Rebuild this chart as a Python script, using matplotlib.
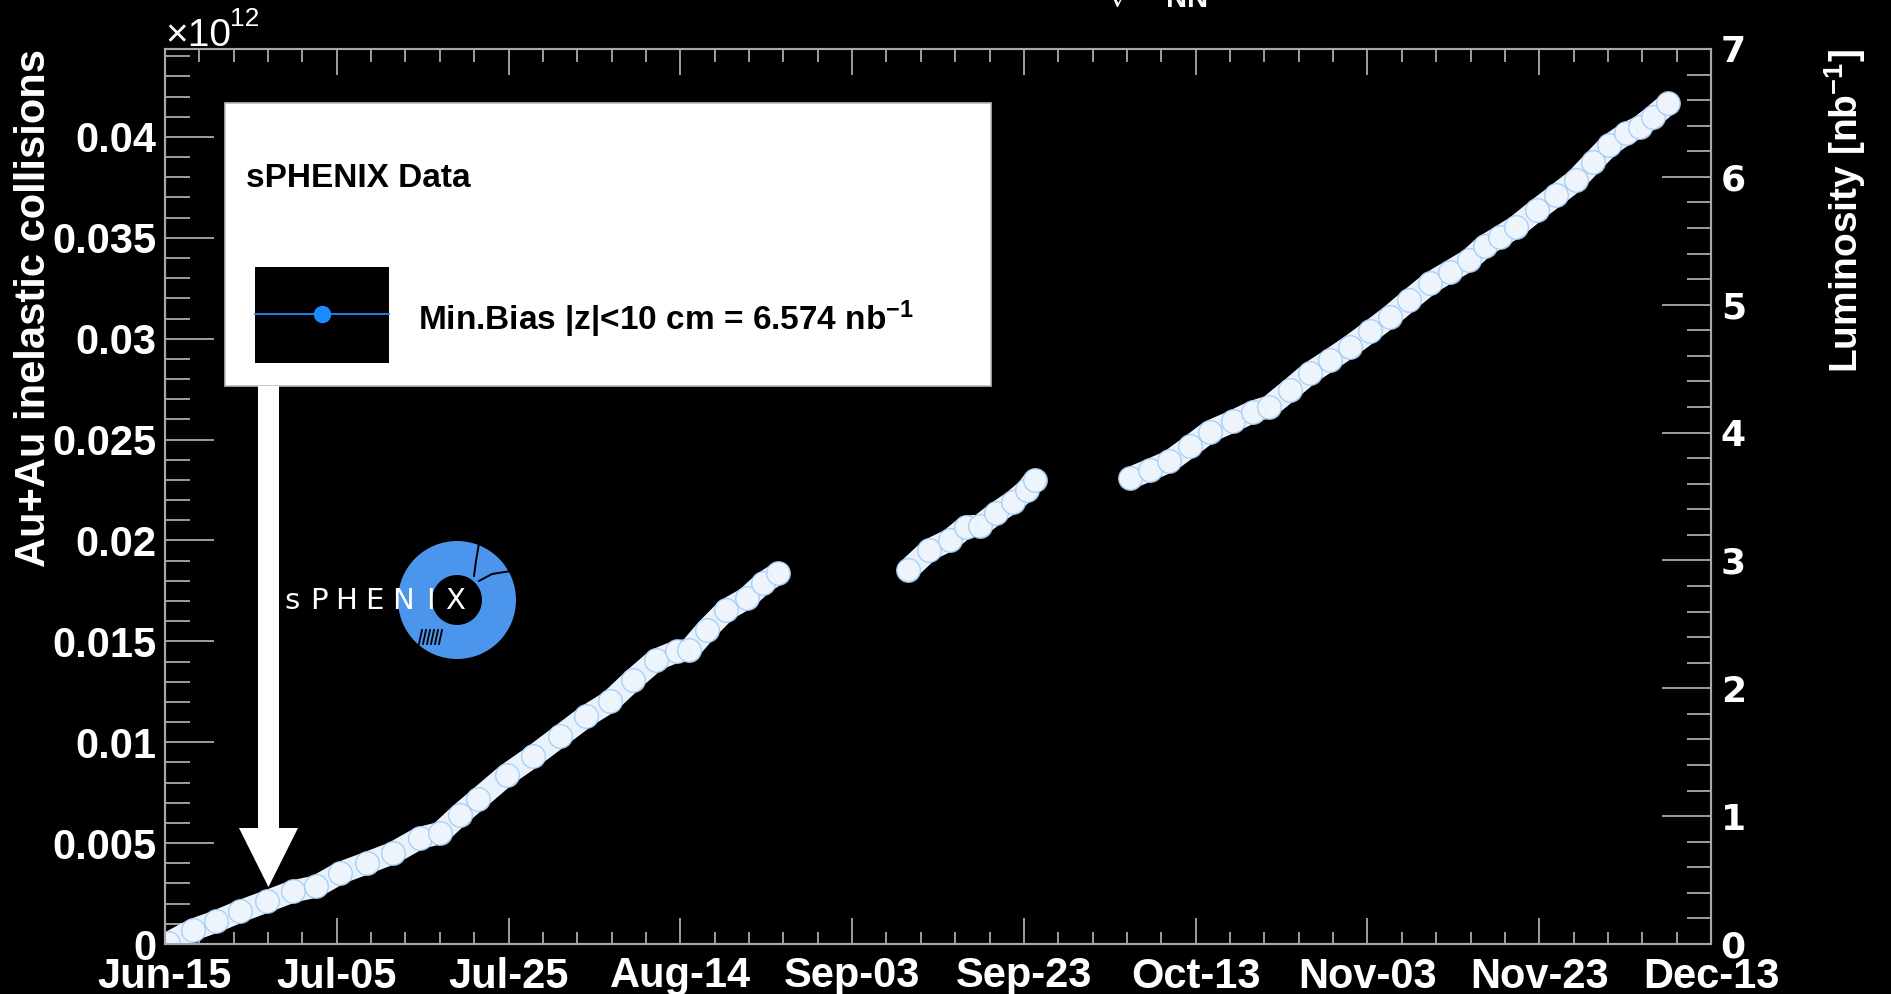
import numpy as np
import matplotlib
matplotlib.use('Agg')
import matplotlib.pyplot as plt
from matplotlib.patches import Rectangle, Polygon, Wedge
from matplotlib.ticker import MultipleLocator, AutoMinorLocator, FuncFormatter

# cumulative Au+Au inelastic collisions (x10^12) vs days since Jun-15, three running periods
days1 = [0.4, 3.3, 6.0, 8.8, 11.9, 15.0, 17.7, 20.5, 23.6, 26.7, 29.8, 32.2, 34.5, 36.7,
         40.0, 43.1, 46.2, 49.3, 52.1, 54.8, 57.5, 59.9, 61.4, 63.4, 65.7, 68.1, 70.0, 71.8]
coll1 = [0.00005, 0.00071, 0.00112, 0.00162, 0.00211, 0.00261, 0.00285, 0.00352, 0.00401,
         0.00451, 0.00525, 0.00550, 0.00641, 0.00720, 0.00839, 0.00930, 0.01029, 0.01128,
         0.01202, 0.01310, 0.01409, 0.01450, 0.01458, 0.01557, 0.01656, 0.01714, 0.01788,
         0.01838]
days2 = [87.0, 89.5, 91.9, 93.8, 95.4, 97.3, 99.3, 100.9, 101.8]
coll2 = [0.01855, 0.01954, 0.02003, 0.02069, 0.02073, 0.02136, 0.02193, 0.02251, 0.02301]
days3 = [113.0, 115.3, 117.6, 120.0, 122.3, 125.0, 127.4, 129.3, 131.7, 134.0, 136.4, 138.7,
         141.1, 143.4, 145.7, 148.1, 150.4, 152.7, 154.5, 156.3, 158.2, 160.6, 162.9, 165.2,
         167.2, 169.1, 171.1, 172.7, 174.2, 176.0]
coll3 = [0.02309, 0.02350, 0.02392, 0.02466, 0.02540, 0.02590, 0.02639, 0.02664, 0.02747,
         0.02829, 0.02895, 0.02961, 0.03036, 0.03110, 0.03192, 0.03275, 0.03333, 0.03391,
         0.03460, 0.03506, 0.03556, 0.03638, 0.03712, 0.03787, 0.03877, 0.03960, 0.04018,
         0.04051, 0.04101, 0.04166]

tick_dates = ['Jun-15', 'Jul-05', 'Jul-25', 'Aug-14', 'Sep-03', 'Sep-23', 'Oct-13',
              'Nov-03', 'Nov-23', 'Dec-13']
n_days = 181
lumi_max = 7.0
coll_max = 0.04436            # x10^12, equals lumi_max nb^-1
total_lumi = '6.574'

plt.rcParams['mathtext.fontset'] = 'custom'
plt.rcParams['mathtext.rm'] = 'Liberation Sans:bold'
plt.rcParams['mathtext.it'] = 'Liberation Sans:bold'
plt.rcParams['mathtext.bf'] = 'Liberation Sans:bold'
plt.rcParams['font.family'] = 'Liberation Sans'
plt.rcParams['font.weight'] = 'bold'

W, H = 1891, 994
fig = plt.figure(figsize=(W / 100, H / 100), dpi=100, facecolor='black')
ax = fig.add_axes([165 / W, 1 - 944 / H, (1711 - 165) / W, (944 - 49) / H])
ax.set_facecolor('black')
ax.set_xlim(0, n_days)
ax.set_ylim(0, coll_max)

ax.set_xticks(np.linspace(0, n_days, len(tick_dates)))
ax.set_xticklabels(tick_dates)
ax.xaxis.set_minor_locator(AutoMinorLocator(5))
ax.yaxis.set_major_locator(MultipleLocator(0.005))
ax.yaxis.set_minor_locator(MultipleLocator(0.001))
ax.yaxis.set_major_formatter(FuncFormatter(lambda v, p: '%g' % round(v, 4)))

tick_col = '#c8c8c8'
ax.tick_params(axis='x', which='both', direction='in', top=True, bottom=True,
               color=tick_col, width=1.1, labelcolor='white', labelsize=30, pad=9)
ax.tick_params(axis='x', which='major', length=19)
ax.tick_params(axis='x', which='minor', length=9)
ax.tick_params(axis='y', which='both', direction='in', left=True, right=False,
               color=tick_col, width=1.1, labelcolor='white', labelsize=30, pad=6)
ax.tick_params(axis='y', which='major', length=35)
ax.tick_params(axis='y', which='minor', length=18)
for lab in ax.get_xticklabels() + ax.get_yticklabels():
    lab.set_fontweight('bold')

ax2 = ax.twinx()
ax2.set_ylim(0, lumi_max)
ax2.yaxis.set_major_locator(MultipleLocator(1))
ax2.yaxis.set_minor_locator(MultipleLocator(0.2))
ax2.tick_params(axis='y', which='both', direction='in', right=True, left=False,
                color=tick_col, width=1.1, labelcolor='white', labelsize=26, pad=7)
ax2.tick_params(axis='y', which='major', length=35)
ax2.tick_params(axis='y', which='minor', length=17)
for lab in ax2.get_yticklabels():
    lab.set_fontfamily('DejaVu Sans')
    lab.set_fontweight('bold')

for a in (ax, ax2):
    for s in a.spines.values():
        s.set_color('#a8a8a8')
        s.set_linewidth(1.5)

# data: light band + circle markers
for d, c in ((days1, coll1), (days2, coll2), (days3, coll3)):
    ax.plot(d, c, color='#e9f2fc', lw=16, solid_capstyle='round', zorder=3)
    ax.plot(d, c, 'o', ms=17, mfc='#eef5fd', mec='#9cc9f4', mew=0.9, alpha=0.9, zorder=4)

# axis titles
fig.text(34 / W, 1 - 49 / H, 'Au+Au inelastic collisions', rotation=90, color='white',
         fontsize=30, fontweight='bold', ha='center', va='top')
fig.text(1845 / W, 1 - 49 / H, r'Luminosity [nb$^{-1}$]', rotation=90, color='white',
         fontsize=28, fontweight='bold', ha='center', va='top')
fig.text(165 / W, 1 - 46 / H, '\u00d710', color='white', fontsize=28,
         fontweight='normal', ha='left', va='baseline')
fig.text(230 / W, 1 - 26 / H, '12', color='white', fontsize=19,
         fontweight='normal', ha='left', va='baseline')
fig.text(955 / W, 1 - 1 / H, r'Au+Au $\sqrt{s_{NN}}$ = 200 GeV', color='white',
         fontsize=30, fontweight='bold', ha='left', va='baseline')

# overlay in pixel coordinates: legend, arrow, logo
ov = fig.add_axes([0, 0, 1, 1])
ov.set_xlim(0, W)
ov.set_ylim(H, 0)
ov.axis('off')

ov.add_patch(Rectangle((225, 103), 766, 283, facecolor='white', edgecolor='#bbbbbb',
                       lw=1.2, zorder=5))
ov.text(246, 187, 'sPHENIX Data', fontsize=24, fontweight='bold', color='black',
        ha='left', va='baseline', zorder=6)
ov.add_patch(Rectangle((255, 267), 134, 96, facecolor='black', edgecolor='none', zorder=6))
ov.plot([255, 389], [314, 314], color='#1a8cff', lw=1.3, zorder=7)
ov.plot([322], [314], 'o', ms=11.5, color='#1a8cff', zorder=8)
ov.text(418, 330, 'Min.Bias |z|<10 cm = %s nb$^{-1}$' % total_lumi, fontsize=24,
        fontweight='bold', color='black', ha='left', va='baseline', zorder=6)

ov.add_patch(Polygon([(258, 386), (279, 386), (279, 828), (298, 828), (268.5, 887),
                      (239, 828), (258, 828)], closed=True, facecolor='white',
                     edgecolor='none', zorder=5))

ring_c = (457, 600)
ov.add_patch(Wedge(ring_c, 59, 0, 360, width=34, facecolor='#4c95ec', edgecolor='none',
                   zorder=5))
ov.plot([474, 476, 479], [576, 561, 543], color='black', lw=1.4, zorder=6)
ov.plot([479, 492, 511], [581, 574, 571], color='black', lw=1.4, zorder=6)
for hx in range(419, 440, 4):
    ov.plot([hx + 3, hx], [630, 644], color='black', lw=1.3, zorder=6)
for ch, cx in zip('sPHENIX', [292, 319, 346, 374, 403, 430, 455]):
    ov.text(cx, 601, ch, fontsize=21, color='white', fontfamily='DejaVu Sans',
            fontweight='normal', ha='center', va='center', zorder=7)

fig.savefig('out.png', dpi=100, facecolor='black')
